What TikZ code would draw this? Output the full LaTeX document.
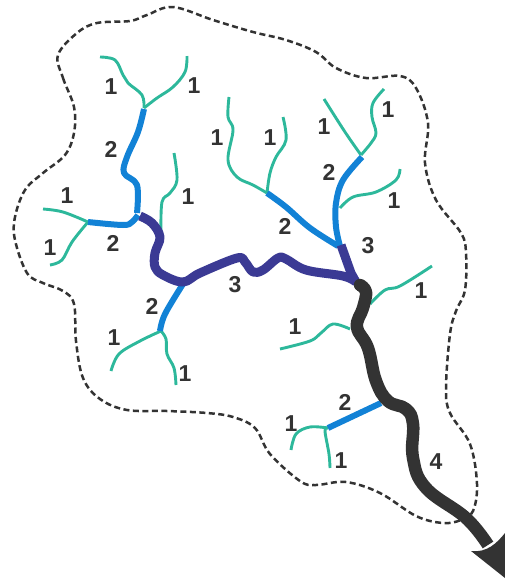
\documentclass[tikz,border=0pt]{standalone}
\usepackage{fontspec}
\setmainfont{Liberation Sans}
\definecolor{ordA}{HTML}{2DB89B}
\definecolor{ordB}{HTML}{1282D6}
\definecolor{ordC}{HTML}{3B3A94}
\definecolor{ordD}{HTML}{333333}
\tikzset{
  basin/.style={draw=ordD,line width=2.5pt,dash pattern=on 6pt off 3.5pt},
  rivA/.style={draw=ordA,line width=2.9pt,line join=round},
  rivB/.style={draw=ordB,line width=6pt,line join=round},
  rivC/.style={draw=ordC,line width=9pt,line join=round},
  rivD/.style={draw=ordD,line width=12.5pt,line join=round},
  num/.style={text=ordD,font=\fontsize{23}{23}\selectfont\bfseries,inner sep=0pt}
}
\begin{document}
\begin{tikzpicture}[x=1pt,y=-1pt]
\useasboundingbox (0,0) rectangle (505,582);
% basin boundary
\draw[basin] plot[smooth cycle,tension=0.6] coordinates {
(58,55)(63,78)(74,107)(74,133)(65,155)(43,173)(25,190)(15,217)(15,240)(27,273)(43,283)(63,291)
(74,304)(76,341)(83,378)(100,399)(127,410)(167,411)(207,413)(233,417)(255,428)(270,454)(300,481)
(316,485)(346,482)(380,493)(416,516)(443,523)(461,520)(473,511)(477,484)(470,444)(450,413)(446,388)
(450,334)(456,311)(465,290)(466,253)(461,233)(436,200)(425,163)(428,123)(416,88)(400,76)(366,78)
(336,68)(316,52)(286,40)(253,32)(213,20)(173,7)(147,15)(130,21)(97,23)(77,33)};
% order 1
\draw[rivA] plot[smooth,tension=0.6] coordinates {(100,57)(115,60)(123,75)(128,83)(142,95)(144,108)};
\draw[rivA] plot[smooth,tension=0.6] coordinates {(187,56)(185,72)(173,87)(157,98)(144,108)};
\draw[rivA] plot[smooth,tension=0.6] coordinates {(43,209)(63,212)(88,222)};
\draw[rivA] plot[smooth,tension=0.6] coordinates {(50,265)(62,260)(72,242)(88,222)};
\draw[rivA] plot[smooth,tension=0.6] coordinates {(174,153)(177,180)(170,193)(162,202)(161,233)};
\draw[rivA] plot[smooth,tension=0.6] coordinates {(283,117)(286,140)(276,157)(270,173)(267,193)};
\draw[rivA] plot[smooth,tension=0.6] coordinates {(229,97)(228,117)(233,130)(228,160)(237,177)(253,185)(267,193)};
\draw[rivA] plot[smooth,tension=0.6] coordinates {(324,99)(345,132)(361,155)};
\draw[rivA] plot[smooth,tension=0.6] coordinates {(384,89)(373,103)(372,117)(376,133)(371,143)(361,155)};
\draw[rivA] plot[smooth,tension=0.6] coordinates {(400,169)(396,180)(376,192)(353,197)(340,208)};
\draw[rivA] plot[smooth,tension=0.6] coordinates {(432,266)(400,286)(385,290)(370,304)};
\draw[rivA] plot[smooth,tension=0.6] coordinates {(280,349)(310,341)(321,333)(333,324)(350,329)};
\draw[rivA] plot[smooth,tension=0.6] coordinates {(291,450)(296,434)(310,427)(328,428)};
\draw[rivA] plot[smooth,tension=0.6] coordinates {(330,468)(329,454)(325,431)(328,428)};
\draw[rivA] plot[smooth,tension=0.6] coordinates {(111,371)(119,354)(140,341)(161,331)};
\draw[rivA] plot[smooth,tension=0.6] coordinates {(176,385)(174,368)(167,354)(166,339)(161,331)};
% order 2
\draw[rivB] plot[smooth,tension=0.6] coordinates {(144,109)(138,132)(127,157)(124,173)(137,185)(137,213)};
\draw[rivB] plot[smooth,tension=0.6] coordinates {(88,222)(123,225)(132,222)(138,215)};
\draw[rivB] plot[smooth,tension=0.6] coordinates {(267,193)(286,207)(310,228)(338,246)};
\draw[rivB] plot[smooth,tension=0.6] coordinates {(362,157)(343,180)(336,203)(336,227)(340,246)};
\draw[rivB] (328,428) -- (381,403);
\draw[rivB] plot[smooth,tension=0.6] coordinates {(160,331)(165,314)(183,284)};
% order 3
\draw[rivC] plot[smooth,tension=0.6] coordinates {(140,216)(152,223)(160,237)(155,253)(155,267)(163,275)(183,282)(200,273)(237,258)(245,262)(253,272)(263,270)(278,258)(286,259)(306,270)(343,276)(356,282)};
\draw[rivC] (341,245) -- (351,273) -- (356,282);
% order 4
\fill[ordD] (360,285) circle (6.2pt);
\draw[rivD] plot[smooth,tension=0.7] coordinates {(360,285)(366,292)(363,308)(357,327)(368,348)(376,381)(388,401)(406,409)(413,424)(413,458)(426,488)(466,518)(488,545)};
\fill[white] (466,553) .. controls (484,555) and (494,545) .. (502,531) -- (505,533) .. controls (497,543) and (487,553) .. (471,551) -- cycle;
\fill[ordD] (471,551) .. controls (487,553) and (497,543) .. (505,533) -- (505,578) -- cycle;
% labels
\node[num] (a1) at (111,87) {1};
\node[num] (a2) at (194,86) {1};
\node[num] (a3) at (217,138) {1};
\node[num] (a4) at (111,149) {2};
\node[num] (a5) at (188,197) {1};
\node[num] (a6) at (67,196) {1};
\node[num] (a7) at (50,248) {1};
\node[num] (a8) at (113,243) {2};
\node[num] (a9) at (235,285) {3};
\node[num] (b1) at (270,138) {1};
\node[num] (b2) at (324,127) {1};
\node[num] (b3) at (388,110) {1};
\node[num] (b4) at (329,172) {2};
\node[num] (b5) at (394,201) {1};
\node[num] (b6) at (285,226) {2};
\node[num] (b7) at (368,246) {3};
\node[num] (b8) at (421,291) {1};
\node[num] (c1) at (152,306) {2};
\node[num] (c2) at (114,338) {1};
\node[num] (c3) at (185,374) {1};
\node[num] (d1) at (295,327) {1};
\node[num] (d2) at (345,402) {2};
\node[num] (d3) at (291,424) {1};
\node[num] (d4) at (341,461) {1};
\node[num] (d5) at (436,462) {4};
\end{tikzpicture}
\end{document}
